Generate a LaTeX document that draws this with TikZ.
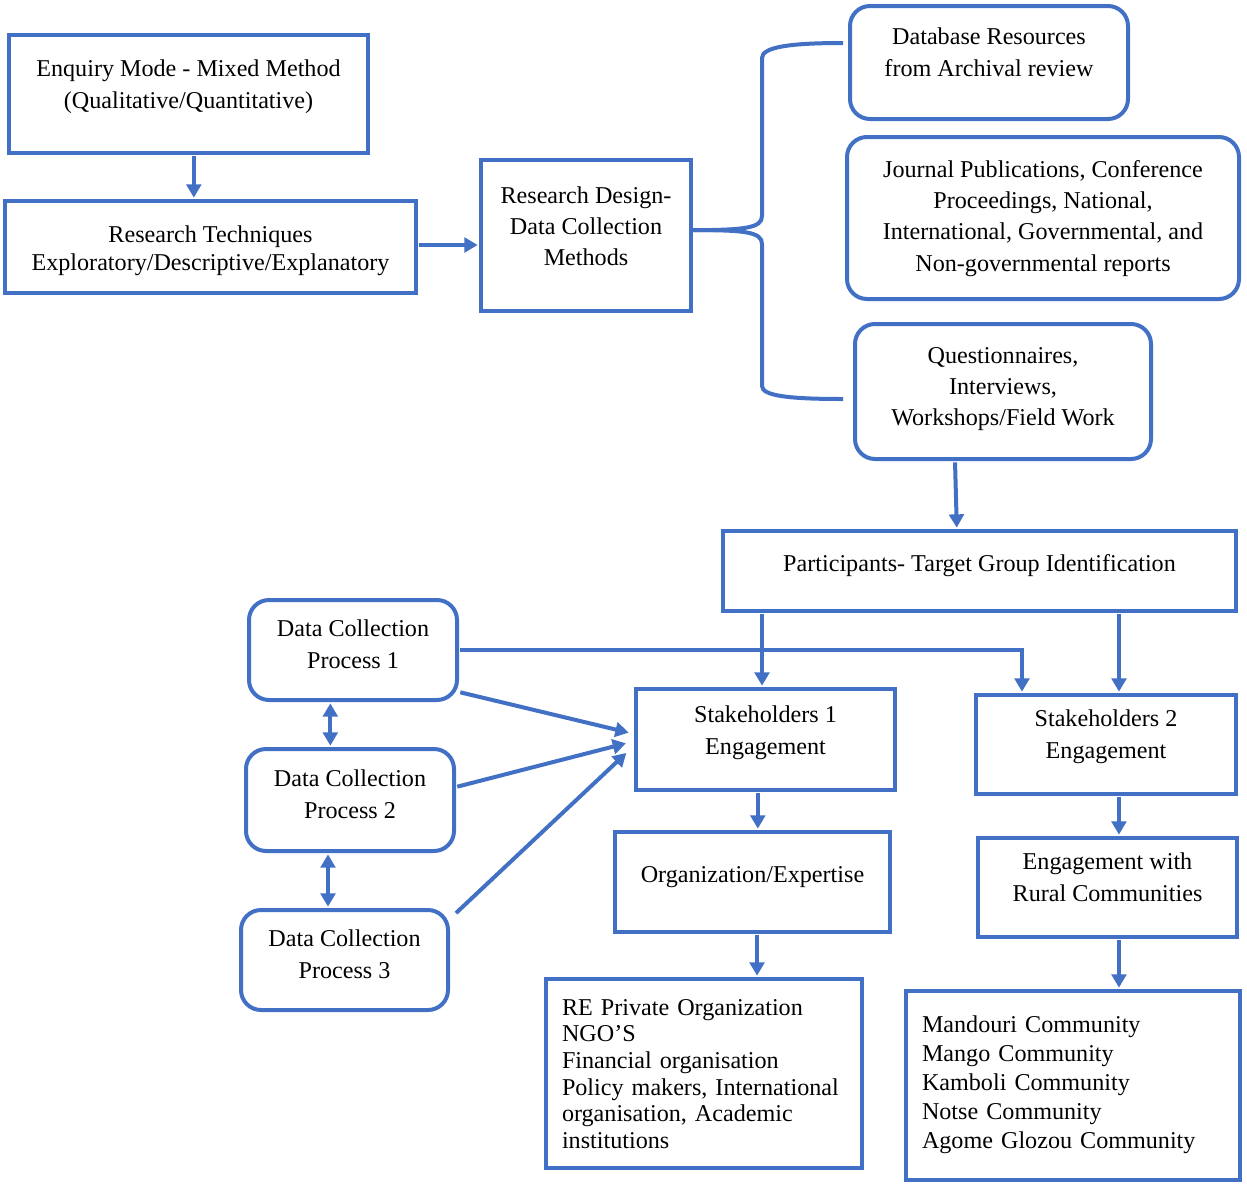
\documentclass[tikz,border=0pt]{standalone}
\usepackage{fontspec}
\setmainfont{Liberation Serif}
\usetikzlibrary{arrows.meta,calc}
\definecolor{bl}{RGB}{66,112,196}
\begin{document}
\begin{tikzpicture}[x=0.75pt,y=-0.75pt,
 box/.style={draw=bl, line width=3pt, inner sep=0pt, align=center, text height=0pt, text depth=0pt, font=\fontsize{18.1}{23.5}\selectfont},
 rbox/.style={box, rounded corners=15pt},
 sz/.style args={#1/#2}{minimum width=#1*0.75pt, minimum height=#2*0.75pt},
 dd/.style={text height=0pt, text depth=#1*1.5pt},
 hh/.style={text depth=0pt, text height=#1*1.5pt},
 tip/.tip={Triangle[length=10pt,width=11pt]},
 arr/.style={draw=bl, line width=3pt, -tip, shorten <=1pt, shorten >=1pt},
 darr/.style={arr, tip-tip},
 lst/.style={box, align=left, inner xsep=12pt, text width=#1*0.75pt, font=\fontsize{18.1}{20}\selectfont},
 brace/.style={draw=bl, line width=3pt}
]
\useasboundingbox (0,0) rectangle (1247,1186);

\node[box, sz=359/118, hh=14.3] (enq) at (188.5,94) {Enquiry Mode - Mixed Method\\(Qualitative/Quantitative)};
\node[box, sz=411/92, hh=23.7, font=\fontsize{18.1}{21.5}\selectfont] (rt) at (210.5,247) {Research Techniques\\Exploratory/Descriptive/Explanatory};
\node[box, sz=210/151, hh=30.2] (rd) at (586,235.5) {Research Design-\\Data Collection\\Methods};
\node[rbox, sz=278/113, hh=13.8] (db) at (989,62.5) {Database Resources\\from Archival review};
\node[rbox, sz=392/162, hh=53] (jp) at (1043,218) {Journal Publications, Conference\\Proceedings, National,\\International, Governmental, and\\Non-governmental reports};
\node[rbox, sz=296/135, hh=34.2] (qu) at (1003,391.5) {Questionnaires,\\Interviews,\\Workshops/Field Work};
\node[box, sz=513/80] (pa) at (979.5,571) {Participants-\ Target Group Identification};
\node[box, sz=259/101, hh=14.8] (s1) at (765.5,739.5) {Stakeholders 1\\Engagement};
\node[box, sz=260/99, hh=13.8] (s2) at (1106,744.5) {Stakeholders 2\\Engagement};
\node[rbox, sz=208/100, hh=18.3] (d1) at (353,650) {Data Collection\\Process 1};
\node[rbox, sz=208/102, hh=18.3] (d2) at (350,800) {Data Collection\\Process 2};
\node[rbox, sz=207/100, hh=18.3] (d3) at (344.5,960) {Data Collection\\Process 3};
\node[box, sz=275/100] (org) at (752.5,882) {Organization/Expertise};
\node[lst=284, minimum height=189*0.75pt, dd=58.5] (re) at (704,1073.5) {RE Private Organization\\NGO'S\\Financial organisation\\Policy makers, International\\organisation, Academic\\institutions};
\node[box, sz=259/99, hh=13.8] (eng) at (1107.5,887.5) {Engagement with\\Rural Communities};
\node[lst=302, minimum height=189*0.75pt, dd=53.5, font=\fontsize{18.1}{21.9}\selectfont] (man) at (1073,1085.5) {Mandouri Community\\Mango Community\\Kamboli Community\\Notse Community\\Agome Glozou Community};

% arrows top part
\draw[arr] ([xshift=4pt]enq.south) -- ([xshift=4pt]enq.south |- rt.north);
\draw[arr] ([yshift=1.5pt]rt.east) -- ([yshift=1.5pt]rt.east -| rd.west);

% brace
\coordinate (bt) at (843,43);
\coordinate (bb) at (843,399);
\draw[brace] ([yshift=4pt]rd.east) .. controls (745,230) and (762,228) .. (762,216) -- (762,58)
  .. controls (762,47) and (790,43) .. (bt);
\draw[brace] ([yshift=4pt]rd.east) .. controls (745,230) and (762,232) .. (762,244) -- (762,386)
  .. controls (762,396) and (790,399) .. (bb);

\draw[arr] ([xshift=-36pt]qu.south) -- ([xshift=-17pt]pa.north);
\draw[arr] ([xshift=-2.6pt]s1.north |- pa.south) -- ([xshift=-2.6pt]s1.north);
\draw[arr] ([xshift=9.75pt]s2.north |- pa.south) -- ([xshift=9.75pt]s2.north);

% data collection
\draw[arr] (d1.east) -- ([xshift=-63pt]s2.north |- d1.east) -- ([xshift=-63pt]s2.north);
\draw[arr] ([yshift=7.5pt]d1.south east) -- ([xshift=-3pt,yshift=4.9pt]s1.west);
\draw[arr] ([yshift=9.75pt]d2.east) -- ([xshift=-5pt,yshift=-2.6pt]s1.west);
\draw[arr] ([xshift=3.75pt,yshift=-4.5pt]d3.north east) -- ([xshift=-5pt,yshift=-9.4pt]s1.west);
\draw[darr] ([xshift=-17pt]d1.south) -- ([xshift=-17pt]d1.south |- d2.north);
\draw[darr] ([xshift=-16.5pt]d2.south) -- ([xshift=-16.5pt]d2.south |- d3.north);

% lower chains
\draw[arr] ([xshift=4pt]org.north |- s1.south) -- ([xshift=4pt]org.north);
\draw[arr] ([xshift=3.4pt]org.south) -- ([xshift=3.4pt]org.south |- re.north);
\draw[arr] ([xshift=8.6pt]eng.north |- s2.south) -- ([xshift=8.6pt]eng.north);
\draw[arr] ([xshift=8.6pt]eng.south) -- ([xshift=8.6pt]eng.south |- man.north);
\end{tikzpicture}
\end{document}
